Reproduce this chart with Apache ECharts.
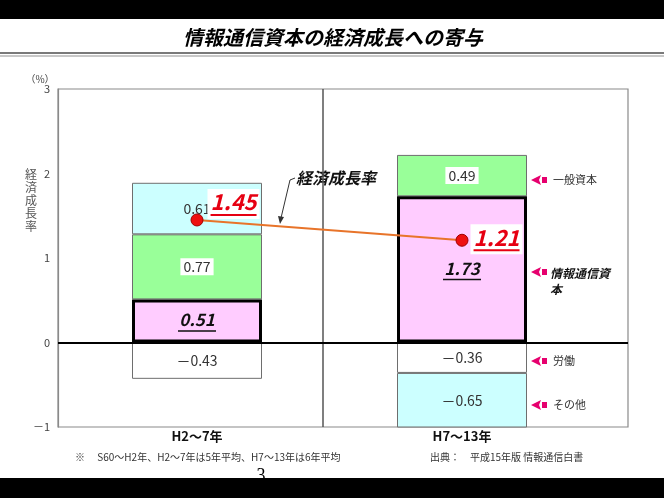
<!DOCTYPE html>
<html>
<head>
<meta charset="utf-8">
<script src="https://cdn.jsdelivr.net/npm/echarts@6/dist/echarts.min.js"></script>
<style>
html,body{margin:0;padding:0;background:#fff;}
#chart{width:664px;height:498px;}
</style>
</head>
<body>
<div id="chart"></div>
<script>
// ---- data ----
const categories = ['H2～7年', 'H7～13年'];
const infoCapital = [0.51, 1.73];
const generalCapital = [0.77, 0.49];
const labor = [-0.43, -0.36];
const other = [0.61, -0.65];
const growthRate = [1.45, 1.21];
const yTickValues = [-1, 0, 1, 2, 3];
const legendNames = ['一般資本', '情報通信資\n本', '労働', 'その他'];

// ---- styles ----
const FONT = '"Noto Sans CJK JP", "Noto Sans", sans-serif';
const growthLabelOffsets = [[0, -16], [-2, -1]];
const arrowColor = '#E6006E';
const yMin = yTickValues[0], yMax = yTickValues[yTickValues.length - 1];

const chart = echarts.init(document.getElementById('chart'), null, {renderer: 'canvas'});

function fmtSigned(v) {
  return v < 0 ? '－' + Math.abs(v).toFixed(2) : v.toFixed(2);
}

const plainLabel = {
  show: true, position: 'inside', color: '#333', fontSize: 14, fontFamily: FONT,
  formatter: p => fmtSigned(p.value)
};

function arrowGroup(y) {
  return {
    type: 'group', x: 531, y: y,
    children: [
      {type: 'polygon', shape: {points: [[0, 0], [10, -5], [8, 0], [10, 5]]}, style: {fill: arrowColor}},
      {type: 'rect', shape: {x: 11, y: -3, width: 5, height: 6}, style: {fill: arrowColor}}
    ]
  };
}

const option = {
  animation: false,
  backgroundColor: '#fff',
  grid: [
    // frame grid
    {left: 58, right: 36, top: 89, bottom: 71, show: true, borderColor: '#8a8a8a', borderWidth: 1.2},
    // bars grid
    {left: 64.5, right: 69.5, top: 89, bottom: 71}
  ],
  xAxis: [
    {gridIndex: 0, type: 'value', min: 0, max: 2.15, show: false},
    {
      gridIndex: 1, type: 'category', data: categories,
      axisLine: {show: false}, axisTick: {show: false}, splitLine: {show: false},
      axisLabel: {margin: 3, fontSize: 13, fontWeight: 'bold', color: '#111', fontFamily: FONT}
    }
  ],
  yAxis: [
    {
      gridIndex: 0, type: 'value', min: yMin, max: yMax, interval: 1,
      axisLine: {show: true, lineStyle: {color: '#8a8a8a', width: 1.2}},
      axisTick: {show: false}, splitLine: {show: false},
      axisLabel: {
        margin: 8, fontSize: 11, color: '#444', fontFamily: FONT,
        formatter: v => v < 0 ? '－' + Math.abs(v) : String(v)
      }
    },
    {gridIndex: 1, type: 'value', min: yMin, max: yMax, interval: 1, show: false, splitLine: {show: false}}
  ],
  series: [
    {
      name: 'frame', type: 'line', xAxisIndex: 0, yAxisIndex: 0, data: [], silent: true, z: 5,
      markLine: {
        silent: true, symbol: 'none', label: {show: false}, animation: false,
        data: [
          {xAxis: 1, lineStyle: {color: '#555', width: 1.5, type: 'solid'}},
          {yAxis: 0, lineStyle: {color: '#000', width: 2, type: 'solid'}}
        ]
      }
    },
    {
      name: '情報通信資本', type: 'bar', stack: 'total', barWidth: 130, z: 4,
      xAxisIndex: 1, yAxisIndex: 1,
      data: infoCapital,
      itemStyle: {color: '#FFCCFF', borderColor: '#000', borderWidth: 3},
      label: {
        show: true, position: 'inside',
        formatter: p => '{v|' + p.value.toFixed(2) + '}\n{u| }',
        rich: {
          v: {fontSize: 17, fontWeight: 'bold', fontStyle: 'italic', color: '#111', fontFamily: FONT, lineHeight: 20, align: 'center'},
          u: {width: 38, height: 1.5, lineHeight: 2, fontSize: 1, backgroundColor: '#111', align: 'center'}
        }
      }
    },
    {
      name: '一般資本', type: 'bar', stack: 'total', barWidth: 130, z: 2,
      xAxisIndex: 1, yAxisIndex: 1,
      data: generalCapital,
      itemStyle: {color: '#99FF99', borderColor: '#6e6e6e', borderWidth: 1},
      label: Object.assign({}, plainLabel, {backgroundColor: '#fff', padding: [2, 3, 1, 3]})
    },
    {
      name: '労働', type: 'bar', stack: 'total', barWidth: 130, z: 2,
      xAxisIndex: 1, yAxisIndex: 1,
      data: labor,
      itemStyle: {color: '#FFFFFF', borderColor: '#6e6e6e', borderWidth: 1},
      label: plainLabel
    },
    {
      name: 'その他', type: 'bar', stack: 'total', barWidth: 130, z: 2,
      xAxisIndex: 1, yAxisIndex: 1,
      data: other,
      itemStyle: {color: '#CCFFFF', borderColor: '#6e6e6e', borderWidth: 1},
      label: plainLabel
    },
    {
      name: '経済成長率', type: 'line', z: 6,
      xAxisIndex: 1, yAxisIndex: 1,
      data: growthRate.map((v, i) => ({value: v, label: {offset: growthLabelOffsets[i]}})),
      lineStyle: {color: '#E8742A', width: 2},
      symbol: 'circle', symbolSize: 12,
      itemStyle: {color: '#EE1010', borderColor: '#A00000', borderWidth: 1},
      label: {
        show: true, position: 'right', distance: 4,
        backgroundColor: '#fff', padding: [1, 3, 3, 3],
        formatter: p => '{v|' + p.value.toFixed(2) + '}\n{u| }',
        rich: {
          v: {fontSize: 22, fontWeight: 'bold', fontStyle: 'italic', color: '#E60012', fontFamily: FONT, lineHeight: 24, align: 'center'},
          u: {width: 46, height: 2, lineHeight: 2, fontSize: 1, backgroundColor: '#E60012', align: 'center'}
        }
      }
    }
  ],
  graphic: [
    {type: 'rect', shape: {x: 0, y: 0, width: 664, height: 19}, style: {fill: '#000'}, z: 10},
    {type: 'rect', shape: {x: 0, y: 478, width: 664, height: 20}, style: {fill: '#000'}, z: 10},
    {type: 'rect', shape: {x: 0, y: 52, width: 664, height: 2}, style: {fill: '#7a7a7a'}},
    {type: 'rect', shape: {x: 0, y: 55, width: 664, height: 2}, style: {fill: '#c8c8c8'}},
    {type: 'text', x: 333, y: 37, style: {text: '情報通信資本の経済成長への寄与', font: 'italic bold 20px ' + FONT, fill: '#000', align: 'center', verticalAlign: 'middle'}},
    {type: 'text', x: 40, y: 79, style: {text: '（%）', font: '10px ' + FONT, fill: '#444', align: 'center', verticalAlign: 'middle'}},
    {type: 'text', x: 31, y: 200, style: {text: '経\n済\n成\n長\n率', font: '12px ' + FONT, fill: '#555', align: 'center', verticalAlign: 'middle', lineHeight: 13}},
    {type: 'text', x: 296, y: 178, style: {text: '経済成長率', font: 'italic bold 16px ' + FONT, fill: '#111', align: 'left', verticalAlign: 'middle'}},
    {type: 'polyline', shape: {points: [[295, 178], [290, 180], [281, 218]]}, style: {stroke: '#333', lineWidth: 1, fill: null}},
    {type: 'polygon', shape: {points: [[278, 216], [284, 217], [280, 224]]}, style: {fill: '#333'}},
    arrowGroup(180),
    {type: 'text', x: 553, y: 180, style: {text: legendNames[0], font: '11px ' + FONT, fill: '#333', verticalAlign: 'middle'}},
    arrowGroup(272),
    {type: 'text', x: 550, y: 281, style: {text: legendNames[1], font: 'italic bold 12px ' + FONT, fill: '#111', verticalAlign: 'middle', lineHeight: 16}},
    arrowGroup(361),
    {type: 'text', x: 553, y: 361, style: {text: legendNames[2], font: '11px ' + FONT, fill: '#333', verticalAlign: 'middle'}},
    arrowGroup(405),
    {type: 'text', x: 553, y: 405, style: {text: legendNames[3], font: '11px ' + FONT, fill: '#333', verticalAlign: 'middle'}},
    {type: 'text', x: 75, y: 457, style: {text: '※　 S60～H2年、H2～7年は5年平均、H7～13年は6年平均', font: '10px ' + FONT, fill: '#333', verticalAlign: 'middle'}},
    {type: 'text', x: 430, y: 457, style: {text: '出典：　平成15年版 情報通信白書', font: '10px ' + FONT, fill: '#333', verticalAlign: 'middle'}},
    {type: 'text', x: 261, y: 476, z: 1, style: {text: '3', font: '18px "Liberation Serif", serif', fill: '#000', align: 'center', verticalAlign: 'middle'}}
  ]
};
chart.setOption(option);
</script>
</body>
</html>
